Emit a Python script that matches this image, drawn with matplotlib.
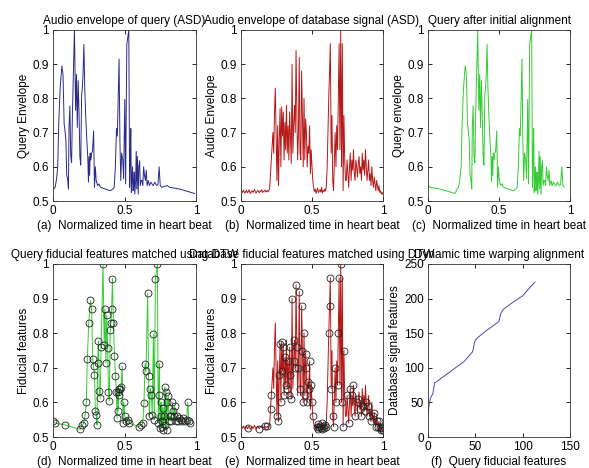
import numpy as np
import matplotlib
matplotlib.use("Agg")
import matplotlib.pyplot as plt

plt.rcParams['font.family'] = ['Liberation Sans', 'DejaVu Sans']
plt.rcParams['font.size'] = 8.5

# ---------------- data ----------------
# Query envelope samples (time after initial alignment, value)
query_t = [0.000, 0.015, 0.085, 0.190, 0.205, 0.215, 0.225, 0.233, 0.240, 0.250,
           0.262, 0.270, 0.278, 0.284, 0.290, 0.296, 0.302, 0.308, 0.312, 0.318,
           0.324, 0.330, 0.336, 0.350, 0.358, 0.364, 0.370, 0.376, 0.382, 0.388,
           0.394, 0.400, 0.405, 0.410, 0.416, 0.422, 0.430, 0.437, 0.443, 0.448,
           0.452, 0.456, 0.460, 0.465, 0.470, 0.476, 0.484, 0.490, 0.496, 0.502,
           0.512, 0.522, 0.532, 0.600, 0.618, 0.628, 0.636, 0.644, 0.650, 0.662,
           0.668, 0.674, 0.680, 0.688, 0.694, 0.702, 0.708, 0.716, 0.730, 0.736,
           0.740, 0.744, 0.748, 0.752, 0.756, 0.760, 0.764, 0.768, 0.772, 0.778,
           0.782, 0.786, 0.790, 0.796, 0.800, 0.806, 0.810, 0.816, 0.822, 0.828,
           0.834, 0.840, 0.846, 0.852, 0.858, 0.866, 0.874, 0.884, 0.892, 0.900,
           0.912, 0.924, 0.934, 0.942, 0.950, 0.960]
query_env = [0.545, 0.540, 0.535, 0.522, 0.535, 0.540, 0.565, 0.600, 0.725, 0.830,
             0.895, 0.870, 0.725, 0.705, 0.680, 0.575, 0.565, 0.535, 0.715, 0.778,
             0.632, 0.612, 0.760, 1.000, 0.765, 0.870, 0.715, 0.852, 0.757, 0.630,
             0.605, 0.810, 0.830, 0.870, 0.958, 0.830, 0.735, 0.675, 0.630, 0.555,
             0.630, 0.575, 0.640, 0.620, 0.640, 0.645, 0.705, 0.540, 0.600, 0.560,
             0.545, 0.550, 0.540, 0.530, 0.535, 0.540, 0.598, 0.712, 0.690, 0.915,
             0.675, 0.560, 0.640, 0.620, 0.565, 0.797, 0.550, 0.958, 1.000, 0.540,
             0.620, 0.712, 0.525, 0.560, 0.600, 0.530, 0.545, 0.585, 0.520, 0.560,
             0.645, 0.535, 0.630, 0.520, 0.600, 0.618, 0.545, 0.560, 0.560, 0.545,
             0.600, 0.575, 0.560, 0.590, 0.545, 0.560, 0.545, 0.555, 0.550, 0.545,
             0.555, 0.545, 0.548, 0.600, 0.545, 0.540]
alignment_shift = 0.2  # initial alignment (circular shift) between (a) and (c)

# Database envelope samples (uniformly spaced over the beat)
db_env = [
    # quiet start
    0.530, 0.528, 0.525, 0.532, 0.527, 0.523, 0.529, 0.531, 0.524, 0.527,
    0.533, 0.526, 0.522, 0.528, 0.530, 0.525, 0.529, 0.534, 0.526, 0.523,
    0.528, 0.531, 0.527, 0.524, 0.530, 0.528, 0.533, 0.525, 0.527, 0.529,
    0.532, 0.526, 0.528, 0.531, 0.527, 0.530,
    # first burst
    0.540, 0.580, 0.620, 0.660, 0.700, 0.640, 0.760, 0.830, 0.700, 0.560,
    0.720, 0.545, 0.680, 0.770, 0.600, 0.775, 0.690, 0.760, 0.620, 0.730,
    0.650, 0.780, 0.640, 0.720, 0.620, 0.760, 0.680, 0.610, 0.900, 0.640,
    0.720, 0.780, 0.700, 0.940, 0.760, 0.620, 0.700, 0.920, 0.640, 0.620,
    0.880, 0.750, 0.600, 0.800, 0.620, 0.740, 0.700, 0.600, 0.660, 0.640,
    0.720, 0.580, 0.650, 0.600, 0.560, 0.540, 0.528,
    # quiet gap
    0.535, 0.522, 0.530, 0.538, 0.524, 0.529, 0.533, 0.526, 0.540, 0.523,
    0.531, 0.527, 0.535, 0.529,
    # second burst
    0.545, 0.600, 0.700, 0.800, 0.880, 0.960, 0.640, 0.750, 0.560, 0.530,
    0.620, 0.700, 0.600, 0.720, 0.650, 0.800, 0.960, 0.650, 1.000, 0.600,
    0.960, 0.530, 0.750, 0.620, 0.560,
    # tail
    0.560, 0.620, 0.580, 0.540, 0.600, 0.640, 0.560, 0.620, 0.590, 0.650,
    0.580, 0.560, 0.620, 0.600, 0.570, 0.610, 0.630, 0.580, 0.600, 0.560,
    0.640, 0.590, 0.620, 0.575, 0.650, 0.600, 0.560, 0.590, 0.620, 0.560,
    0.580, 0.545, 0.600, 0.560, 0.540, 0.570, 0.550, 0.530, 0.560, 0.545,
    0.530, 0.545, 0.525, 0.530, 0.520, 0.525, 0.520]

# indices of database samples matched by DTW
db_matched = [9, 23, 30, 33, 37, 38, 45, 47, 48, 49, 50, 51, 52, 53, 54, 55, 56,
              58, 59, 60, 61, 62, 63, 64, 66, 67, 68, 69, 70, 72, 73, 74, 76, 77,
              78, 79, 80, 81, 82, 83, 84, 85, 86, 88, 89, 90, 95, 96, 97, 98, 99,
              100, 101, 102, 103, 104, 105, 106, 110, 111, 112, 113, 115, 116, 118,
              119, 121, 122, 123, 125, 126, 128, 129, 133, 135, 137, 139, 141, 143,
              145, 147, 149, 151, 153, 155, 157, 159, 161, 163, 165, 167, 169, 171,
              172, 173, 174, 175, 176, 177, 178]

# DTW warping path (query feature index, database feature index)
path_q = [0, 1, 2, 3, 4, 5, 6, 7, 10, 20, 30, 38, 47, 48, 49, 50, 52, 60, 70, 75,
          76, 77, 80, 90, 100, 105, 113]
path_d = [30, 45, 53, 57, 60, 62, 70, 78, 81, 91, 101, 109, 123, 128, 136, 140,
          143, 152, 162, 167, 174, 179, 185, 195, 204, 212, 224]

# ---------------- derived positions ----------------
qt = np.array(query_t)
qv = np.array(query_env)
raw_t = np.where(qt >= alignment_shift, qt - alignment_shift, qt + 1 - alignment_shift)
order = np.argsort(raw_t)
raw_t, raw_v = raw_t[order], qv[order]

db_v = np.array(db_env)
db_t = np.linspace(0, 1, len(db_v))
mi = np.array(db_matched)

BLUE = '#2a2a8a'
RED = '#b81818'
GREEN = '#33cc33'

fig = plt.figure(figsize=(5.89, 4.68), dpi=100)
W, H = 589.0, 468.0
cols = [(53, 196), (241, 383), (428, 570)]
rows = [(30, 201), (264, 437)]

def mkax(r, c):
    x0, x1 = cols[c]
    y0, y1 = rows[r]
    return fig.add_axes([x0 / W, 1 - y1 / H, (x1 - x0) / W, (y1 - y0) / H])

def style(ax):
    ax.tick_params(direction='in', top=True, right=True, length=3, width=0.6,
                   labelsize=8.5, pad=3)
    for s in ax.spines.values():
        s.set_linewidth(0.6)
        s.set_color('#333333')

def env_axes(ax, ylabel, xlabel, title):
    ax.set_xlim(0, 1)
    ax.set_ylim(0.5, 1)
    ax.set_xticks([0, 0.5, 1])
    ax.set_xticklabels(['0', '0.5', '1'])
    ax.set_yticks([0.5, 0.6, 0.7, 0.8, 0.9, 1.0])
    ax.set_yticklabels(['0.5', '0.6', '0.7', '0.8', '0.9', '1'])
    ax.set_ylabel(ylabel, labelpad=2)
    ax.set_xlabel(xlabel, labelpad=2)
    ax.set_title(title, fontsize=8.5, pad=4)
    style(ax)

# (a)
ax = mkax(0, 0)
ax.plot(raw_t, raw_v, color=BLUE, lw=0.7)
env_axes(ax, 'Query Envelope', '(a)  Normalized time in heart beat',
         'Audio envelope of query (ASD)')

# (b)
ax = mkax(0, 1)
ax.plot(db_t, db_v, color=RED, lw=0.7)
env_axes(ax, 'Audio Envelope', '(b)  Normalized time in heart beat',
         'Audio envelope of database signal (ASD)')

# (c)
ax = mkax(0, 2)
ax.plot(qt, qv, color=GREEN, lw=0.7)
env_axes(ax, 'Query envelope', '(c)  Normalized time in heart beat',
         'Query after initial alignment')

# (d)
ax = mkax(1, 0)
ax.plot(qt, qv, color=GREEN, lw=0.7)
ax.plot(qt, qv, 'o', mfc='none', mec='#222222', ms=5, mew=0.6)
env_axes(ax, 'Fiducial features', '(d)  Normalized time in heart beat',
         'Query fiducial features matched using DTW')

# (e)
ax = mkax(1, 1)
ax.plot(db_t, db_v, color=RED, lw=0.7)
ax.plot(db_t[mi], db_v[mi], 'o', mfc='none', mec='#222222', ms=5, mew=0.6)
env_axes(ax, 'Fiducial features', '(e)  Normalized time in heart beat',
         'Database fiducial features matched using DTW')

# (f)
ax = mkax(1, 2)
ax.plot(path_q, path_d, color='#4848a8', lw=0.7)
ax.set_xlim(0, 150)
ax.set_ylim(0, 250)
ax.set_xticks([0, 50, 100, 150])
ax.set_yticks([0, 50, 100, 150, 200, 250])
ax.set_ylabel('Database signal features', labelpad=2)
ax.set_xlabel('(f)  Query fiducial features', labelpad=2)
ax.set_title('Dynamic time warping alignment', fontsize=8.5, pad=4)
style(ax)

fig.savefig('out.png', dpi=100)
